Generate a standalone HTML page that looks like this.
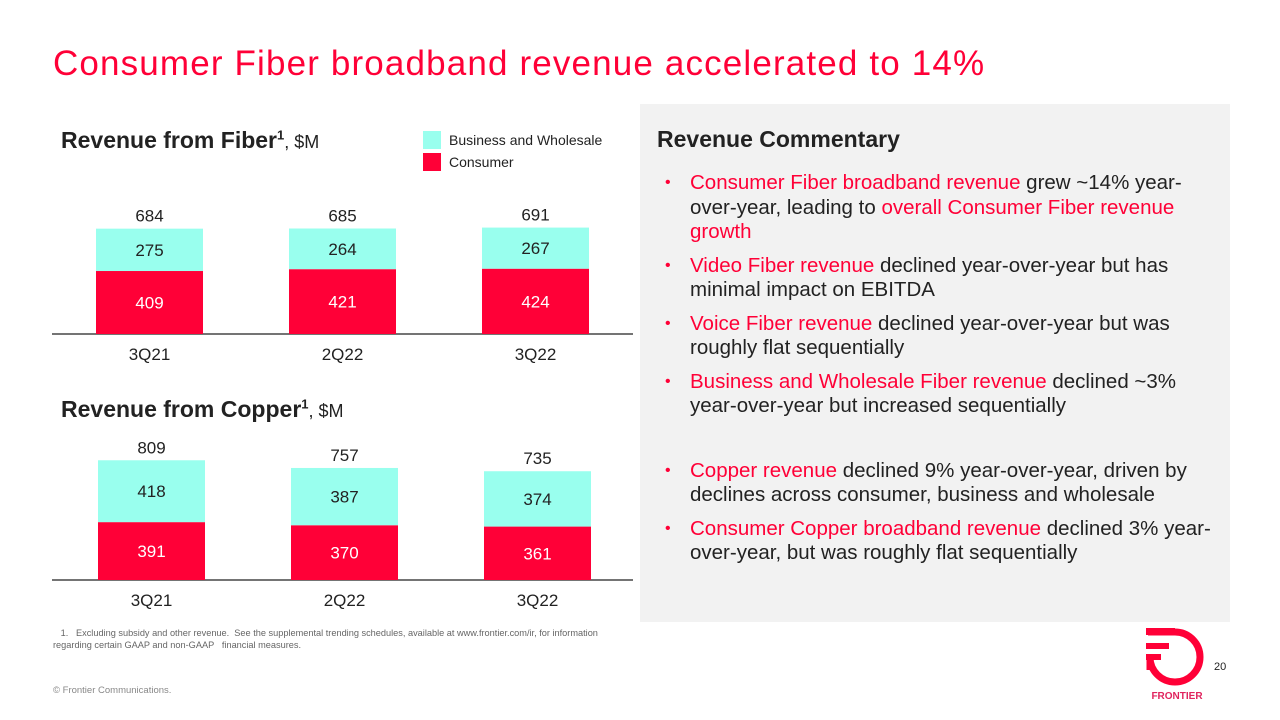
<!DOCTYPE html>
<html><head><meta charset="utf-8"><style>
body{margin:0;width:1280px;height:720px;overflow:hidden;background:#fff;font-family:"Liberation Sans",Arial,sans-serif;position:relative}
.abs{position:absolute}
.r{color:#ff0037}
ul{margin:0;padding:0;list-style:none}
li{position:relative;padding-left:33px;font-size:20.5px;line-height:24.5px;color:#222;margin-bottom:9px}
li:before{content:"•";color:#ff0037;position:absolute;left:8px;top:0;font-size:16px}
</style></head><body>
<div class="abs r" style="left:53px;top:44px;font-size:35px;letter-spacing:1.15px;color:#ff0037">Consumer Fiber broadband revenue accelerated to 14%</div>
<div class="abs" style="left:61px;top:127px;font-size:23px;font-weight:bold;color:#222">Revenue from Fiber<sup style="font-size:13px">1</sup><span style="font-weight:normal;font-size:18px">, $M</span></div>
<div class="abs" style="left:61px;top:396px;font-size:23px;font-weight:bold;color:#222">Revenue from Copper<sup style="font-size:13px">1</sup><span style="font-weight:normal;font-size:18px">, $M</span></div>
<div class="abs" style="left:423px;top:131px;font-size:14px;color:#222">
<div style="height:22px;line-height:18px"><span style="display:inline-block;width:18px;height:18px;background:#99ffee;vertical-align:top;margin-right:8px"></span>Business and Wholesale</div>
<div style="height:22px;line-height:18px"><span style="display:inline-block;width:18px;height:18px;background:#ff0037;vertical-align:top;margin-right:8px"></span>Consumer</div>
</div>
<svg id="chart" class="abs" style="left:0;top:0" width="640" height="620"></svg>
<div class="abs" style="left:640px;top:104px;width:590px;height:518px;background:#f2f2f2">
<div style="position:absolute;left:17px;top:22px;font-size:23px;font-weight:bold;color:#222">Revenue Commentary</div>
<ul style="position:absolute;left:17px;top:67px;width:563px">
<li><span class="r">Consumer Fiber broadband revenue</span> grew ~14% year-over-year, leading to <span class="r">overall Consumer Fiber revenue growth</span></li>
<li><span class="r">Video Fiber revenue</span> declined year-over-year but has minimal impact on EBITDA</li>
<li><span class="r">Voice Fiber revenue</span> declined year-over-year but was roughly flat sequentially</li>
<li style="margin-bottom:40px"><span class="r">Business and Wholesale Fiber revenue</span> declined ~3% year-over-year but increased sequentially</li>
<li><span class="r">Copper revenue</span> declined 9% year-over-year, driven by declines across consumer, business and wholesale</li>
<li><span class="r">Consumer Copper broadband revenue</span> declined 3% year-over-year, but was roughly flat sequentially</li>
</ul></div>
<div class="abs" style="left:53px;top:627px;font-size:9.2px;color:#666;line-height:12px">&nbsp;&nbsp;&nbsp;1.&nbsp;&nbsp; Excluding subsidy and other revenue.&nbsp; See the supplemental trending schedules, available at www.frontier.com/ir, for information<br>regarding certain GAAP and non-GAAP&nbsp;&nbsp; financial measures.</div>
<div class="abs" style="left:53px;top:685px;font-size:9.5px;color:#888">© Frontier Communications.</div>
<div class="abs" style="left:1214px;top:661px;font-size:11px;color:#222">20</div>
<svg class="abs" style="left:1145px;top:626px" width="65" height="78">
<path d="M3,6 H30 A25,25 0 1 1 5,31 V44" fill="none" stroke="#ff0037" stroke-width="7"/>
<rect x="1" y="2" width="29" height="7" fill="#ff0037"/>
<rect x="1" y="17" width="23" height="6" fill="#ff0037"/>
<rect x="1" y="28" width="15" height="6" fill="#ff0037"/>
<text x="32" y="73" font-size="10" font-weight="bold" fill="#e0245e" text-anchor="middle" font-family="Liberation Sans">FRONTIER</text>
</svg>
<script>
const categories=["3Q21","2Q22","3Q22"];
const fiberConsumer=[409,421,424];
const fiberBusiness=[275,264,267];
const fiberTotal=[684,685,691];
const copperConsumer=[391,370,361];
const copperBusiness=[418,387,374];
const copperTotal=[809,757,735];
const svg=document.getElementById('chart');
const NS='http://www.w3.org/2000/svg';
function mk(t,a,txt){const e=document.createElementNS(NS,t);for(const k in a)e.setAttribute(k,a[k]);if(txt!==undefined)e.textContent=txt;svg.appendChild(e);return e;}
function drawChart(base,scale,x0,cons,bus,tot,prefix){
  const y=v=>base-v*scale;
  const xs=i=>x0+i*193;
  let l=mk('line',{x1:52,x2:633,y1:base,y2:base,stroke:'#222','stroke-width':1.3});
  
  
  categories.forEach((c,i)=>{
    const x=xs(i),w=107;
    let r1=mk('rect',{x:x,y:y(cons[i]),width:w,height:cons[i]*scale,fill:'#ff0037'});
    
    
    let r2=mk('rect',{x:x,y:y(cons[i]+bus[i]),width:w,height:bus[i]*scale,fill:'#99ffee'});
    
    
    const cx=x+w/2,f='font-size:17px;font-family:Liberation Sans';
    let t1=mk('text',{x:cx,y:y(cons[i]/2)+6,'text-anchor':'middle',fill:'#fff',style:f},cons[i]);
    
    
    let t2=mk('text',{x:cx,y:y(cons[i]+bus[i]/2)+6,'text-anchor':'middle',fill:'#222',style:f},bus[i]);
    
    
    let t3=mk('text',{x:cx,y:y(cons[i]+bus[i])-7,'text-anchor':'middle',fill:'#222',style:f},tot[i]);
    
    
    let t4=mk('text',{x:cx,y:base+26,'text-anchor':'middle',fill:'#222',style:f},c);
    
    
  });
}
drawChart(334,0.154,96,fiberConsumer,fiberBusiness,fiberTotal,'fiber');
drawChart(580,0.148,98,copperConsumer,copperBusiness,copperTotal,'copper');
</script>
</body></html>
